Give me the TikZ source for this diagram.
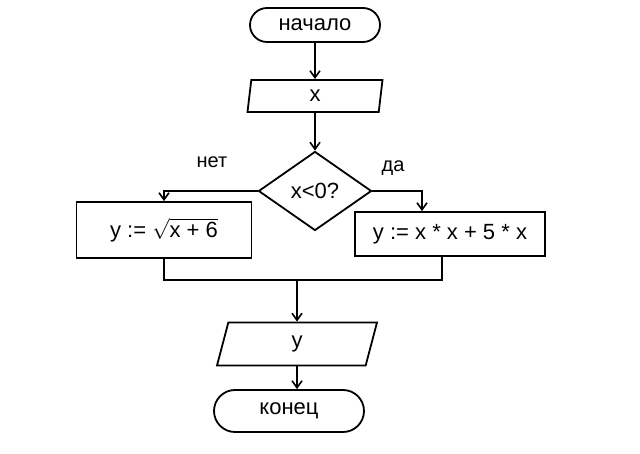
\documentclass[tikz,border=0pt]{standalone}
\usepackage{fontspec}
\setmainfont{Liberation Sans}
\usetikzlibrary{shapes.geometric,shapes.misc,arrows.meta}
\begin{document}
\begin{tikzpicture}[x=1pt,y=-1pt,
  base/.style={draw=black,line width=1.8pt,font=\fontsize{22}{24}\selectfont,inner sep=0pt},
  term/.style={base,rounded rectangle},
  io/.style={base,trapezium,trapezium stretches body},
  proc/.style={base,rectangle},
  decide/.style={base,diamond},
  conn/.style={line width=1.6pt,draw=black},
  arr/.style={conn,-{Straight Barb[length=7pt,width=10pt]}},
  lbl/.style={font=\fontsize{20}{22}\selectfont}]
\useasboundingbox (0,0) rectangle (640,454);
\node[term,minimum width=130,minimum height=34] (start) at (315,25) {начало};
\node[io,trapezium left angle=72,trapezium right angle=108,minimum width=135,minimum height=32] (inp) at (315,96) {x};
\node[decide,minimum width=113,minimum height=79] (cond) at (315,191) {x<0?};
\node[proc,minimum width=175,minimum height=56] (left) at (164,230) {y := $\sqrt{\hbox{x + 6}}$};
\node[proc,minimum width=190,minimum height=44] (right) at (450,234) {y := x * x + 5 * x};
\node[io,trapezium left angle=55,trapezium right angle=125,minimum width=160,minimum height=43] (out) at (297,344) {y};
\node[term,minimum width=150,minimum height=42] (stop) at (289,411) {конец};
\coordinate (merge) at (297,280);
\node[lbl] (no) at (212,162) {нет};
\node[lbl] (yes) at (393,168) {да};
\draw[arr] (start.south) -- (inp.north);
\draw[arr] (inp.south) -- (cond.north);
\draw[arr] (cond.west) -| (left.north);
\draw[arr] (cond.east) -| (right.north -| 422,0);
\draw[conn] (left.south) |- (merge);
\draw[conn] (right.south -| 442,0) |- (merge);
\draw[arr] (merge) -- (out.north);
\draw[arr] (out.south) -- (out.south |- stop.north);
\end{tikzpicture}
\end{document}
